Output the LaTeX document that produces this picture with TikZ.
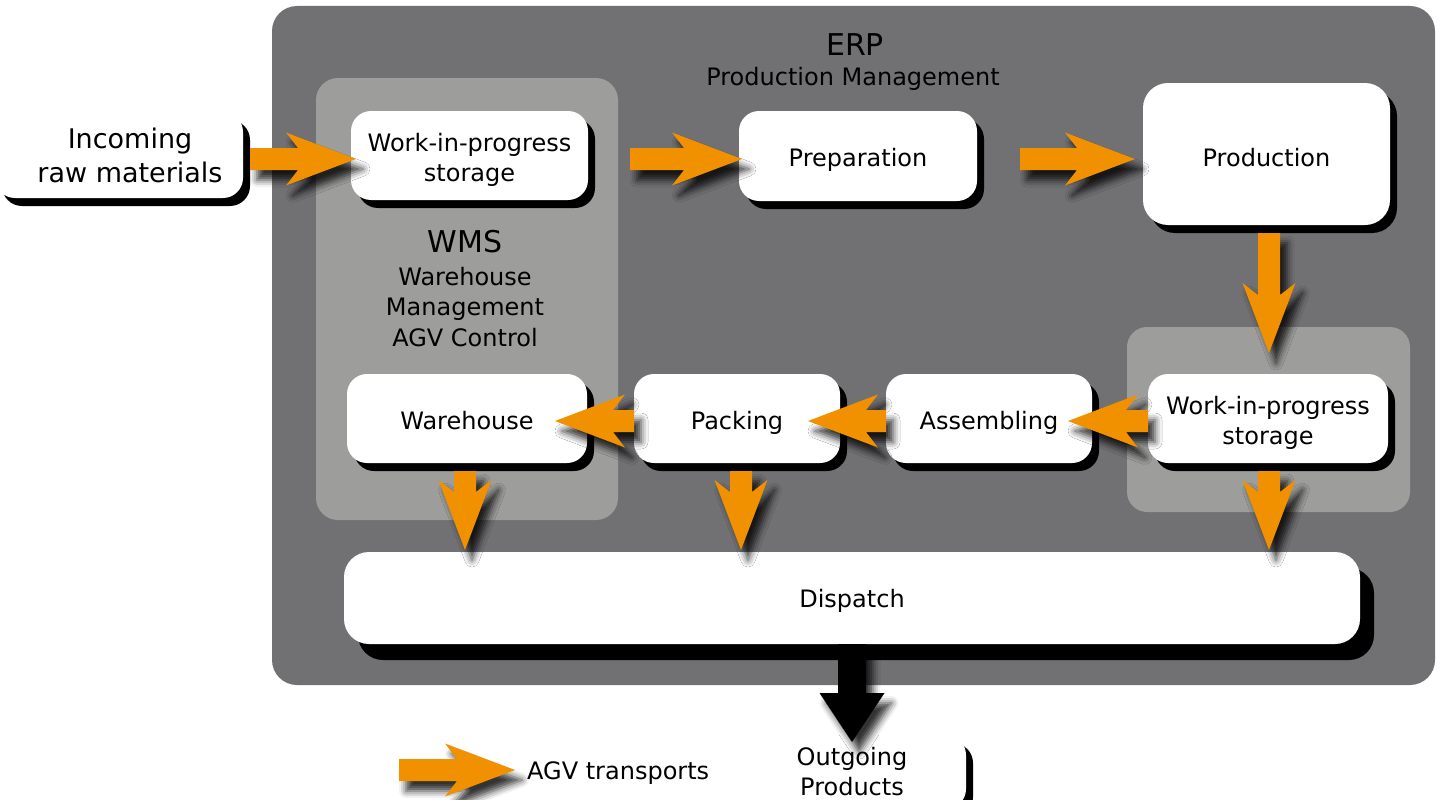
\documentclass[tikz,border=0pt]{standalone}
\usepackage{fontspec}
\setmainfont{DejaVu Sans}
\usetikzlibrary{calc,shadows,shadows.blur}
\definecolor{erpgray}{RGB}{113,112,115}
\definecolor{wmsgray}{RGB}{157,157,156}
\definecolor{agvorange}{RGB}{242,145,0}
\newcommand{\boxfnt}{\fontsize{24}{30}\selectfont}
\begin{document}
\begin{tikzpicture}[x=1pt,y=-1pt,
  panel/.style={inner sep=0pt, outer sep=0pt},
  boxbase/.style={fill=white, rounded corners=20pt, align=center, inner sep=0pt, font=\boxfnt},
  box/.style={boxbase, general shadow={fill=black, shadow xshift=7pt, shadow yshift=-8pt}},
  bigbox/.style={boxbase, rounded corners=25pt, general shadow={fill=black, shadow xshift=14pt, shadow yshift=-16pt}},
  oneline/.style={text height=22pt, text depth=0.5pt},
  twoline/.style={text height=53pt, text depth=0.5pt},
  title/.style={font=\fontsize{30}{36}\selectfont, inner sep=0pt},
  agvshadow/.style={blur shadow={shadow xshift=7pt, shadow yshift=-10pt, shadow blur radius=7pt, shadow opacity=80}},
  agv/.style={fill=agvorange, agvshadow,
    to path={let \p1=(\tikztostart), \p2=(\tikztotarget), \n1={atan2(\y2-\y1,\x2-\x1)} in
      ($(\p1)+(\n1+90:11pt)$) -- ($(\p2)+(\n1+180:58pt)+(\n1+90:11pt)$) -- ($(\p2)+(\n1+180:70pt)+(\n1+90:26.5pt)$) -- (\p2)
      -- ($(\p2)+(\n1+180:70pt)+(\n1-90:26.5pt)$) -- ($(\p2)+(\n1+180:58pt)+(\n1-90:11pt)$) -- ($(\p1)+(\n1-90:11pt)$) -- cycle}},
  outarrow/.style={fill=black, agvshadow,
    to path={let \p1=(\tikztostart), \p2=(\tikztotarget), \n1={atan2(\y2-\y1,\x2-\x1)} in
      ($(\p1)+(\n1+90:14pt)$) -- ($(\p2)+(\n1+180:49pt)+(\n1+90:14pt)$) -- ($(\p2)+(\n1+180:49pt)+(\n1+90:32.5pt)$) -- (\p2)
      -- ($(\p2)+(\n1+180:49pt)+(\n1-90:32.5pt)$) -- ($(\p2)+(\n1+180:49pt)+(\n1-90:14pt)$) -- ($(\p1)+(\n1-90:14pt)$) -- cycle}}
]
\useasboundingbox (0,0) rectangle (1440,800);

% panels
\node[panel, fill=erpgray, rounded corners=25pt, minimum width=1163pt, minimum height=679pt] (erp) at (853.5,345.5) {};
\node[panel, fill=wmsgray, rounded corners=22pt, minimum width=302pt, minimum height=442pt] (wms) at (467,299) {};
\node[panel, fill=wmsgray, rounded corners=20pt, minimum width=283pt, minimum height=185pt] (wipzone) at (1268.5,419.5) {};

% titles
\node[title] (erpt) at (855,45) {ERP};
\node[font=\fontsize{24}{29}\selectfont, inner sep=0pt] (erps) at (853,79) {Production Management};
\node[title] (wmst) at (465,242) {WMS};
\node[font=\fontsize{24}{30.5}\selectfont, align=center, inner sep=0pt] (wmss) at (465,307) {Warehouse\\Management\\AGV Control};

% boxes
\node[box, minimum width=248pt, minimum height=86pt] (inc) at (119,155) {};
\node[font=\fontsize{27}{34}\selectfont, align=center, inner sep=0pt] (inctext) at (130,155) {Incoming\\raw materials};
\node[box, twoline, minimum width=237pt, minimum height=89pt] (wip1) at (469.5,155.5) {Work-in-progress\\storage};
\node[box, oneline, minimum width=238pt, minimum height=90pt] (prep) at (858,156) {Preparation};
\node[box, text height=26pt, text depth=0.5pt, rounded corners=25pt, minimum width=247pt, minimum height=142pt] (prod) at (1266.5,154) {Production};
\node[box, twoline, minimum width=240pt, minimum height=89pt] (wip2) at (1268,418.5) {Work-in-progress\\storage};
\node[box, oneline, minimum width=206pt, minimum height=89pt] (asm) at (989,418.5) {Assembling};
\node[box, oneline, minimum width=206pt, minimum height=89pt] (pack) at (737,418.5) {Packing};
\node[box, oneline, minimum width=240pt, minimum height=89pt] (ware) at (467,418.5) {Warehouse};
\node[bigbox, text height=20pt, text depth=0.5pt, minimum width=1016pt, minimum height=92pt] (disp) at (852,598) {Dispatch};
\node[box, minimum width=228pt, minimum height=74pt] (out) at (852,772) {Outgoing\\Products};

% legend text
\node[font=\fontsize{24}{29}\selectfont, anchor=west, inner sep=0pt] (legtext) at (527,773) {AGV transports};

% arrow end points
\coordinate (a1s) at (250,159);  \coordinate (a1e) at (356,159);
\coordinate (a2s) at (630,159);  \coordinate (a2e) at (742,159);
\coordinate (a3s) at (1020,159); \coordinate (a3e) at (1135,159);
\coordinate (a4s) at (1269,233); \coordinate (a4e) at (1269,353);
\coordinate (a5s) at (1148,421); \coordinate (a5e) at (1068,421);
\coordinate (a6s) at (886,421);  \coordinate (a6e) at (808,421);
\coordinate (a7s) at (634,421);  \coordinate (a7e) at (555,421);
\coordinate (a8s) at (465,471);  \coordinate (a8e) at (465,550);
\coordinate (a9s) at (741,471);  \coordinate (a9e) at (741,550);
\coordinate (a10s) at (1269,471); \coordinate (a10e) at (1269,550);
\coordinate (legs) at (399,770); \coordinate (lege) at (515,770);
\coordinate (bigtip) at (852,742);

% big output arrow
\path[outarrow] (disp.south) to (bigtip);

% AGV arrows
\path[agv] (a1s) to (a1e);
\path[agv] (a2s) to (a2e);
\path[agv] (a3s) to (a3e);
\path[agv] (a4s) to (a4e);
\path[agv] (a5s) to (a5e);
\path[agv] (a6s) to (a6e);
\path[agv] (a7s) to (a7e);
\path[agv] (a8s) to (a8e);
\path[agv] (a9s) to (a9e);
\path[agv] (a10s) to (a10e);
\path[agv] (legs) to (lege);
\end{tikzpicture}
\end{document}
